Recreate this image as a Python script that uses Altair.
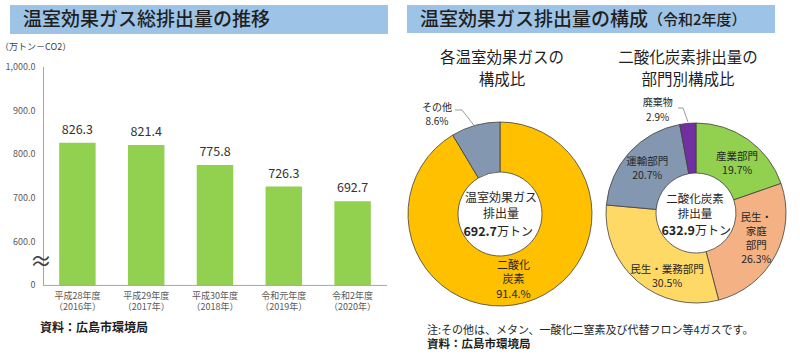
import altair as alt
import pandas as pd

FONT = "Noto Sans CJK JP"

# ---------------- data ----------------
fy_names = ["平成28年度", "平成29年度", "平成30年度", "令和元年度", "令和2年度"]
fy_years = ["（2016年）", "（2017年）", "（2018年）", "（2019年）", "（2020年）"]
total_emissions = [826.3, 821.4, 775.8, 726.3, 692.7]
y_ticks = [600, 700, 800, 900, 1000]
y_break_base = 500

gas_names = ["二酸化炭素", "その他"]
gas_share = [91.4, 8.6]
gas_label_lines = ["二酸化\n炭素", "その他"]
gas_pct_text = ["91.4.%", "8.6%"]
gas_total = 692.7

sector_names = ["産業部門", "民生・家庭部門", "民生・業務部門", "運輸部門", "廃棄物"]
sector_share = [19.7, 26.3, 30.5, 20.7, 2.9]
sector_label_lines = ["産業部門", "民生・\n家庭\n部門", "民生・業務部門", "運輸部門", "廃棄物"]
co2_total = 632.9

color_domain = gas_names + sector_names
color_range = ["#FFC000", "#8497B0", "#92D050", "#F4B183", "#FFD966", "#8497B0", "#7030A0"]

# ---------------- tables ----------------
bars = pd.DataFrame({
    "fy": fy_names,
    "value": total_emissions,
    "xlabel": [f"{a}\n{b}" for a, b in zip(fy_names, fy_years)],
})
ticks = pd.DataFrame({
    "value": [y_break_base] + y_ticks,
    "text": ["0"] + [f"{v:,.1f}" for v in y_ticks],
})
gas = pd.DataFrame({
    "cat": gas_names,
    "share": gas_share,
    "idx": list(range(len(gas_names))),
    "label": [f"{a}\n{b}" for a, b in zip(gas_label_lines, gas_pct_text)],
})
sector = pd.DataFrame({
    "cat": sector_names,
    "share": sector_share,
    "idx": list(range(len(sector_names))),
    "label": [f"{a}\n{v:.1f}%" for a, v in zip(sector_label_lines, sector_share)],
})
one = pd.DataFrame({"k": [0]})

xs = alt.Scale(domain=fy_names, range=[43, 387], paddingInner=0.47, paddingOuter=0.235)
ys = alt.Scale(domain=[y_break_base, 1000], range=[285.4, 66.9], zero=False, nice=False)
cs = alt.Scale(domain=color_domain, range=color_range)


def txt(text, x, y, size, align="left", weight="normal", color="#1F1F1F", lh=None, baseline="middle"):
    kw = dict(font=FONT, fontSize=size, align=align, baseline=baseline,
              fontWeight=weight, color=color, lineBreak="\n")
    if lh:
        kw["lineHeight"] = lh
    return alt.Chart(one).mark_text(**kw).encode(
        x=alt.value(x), y=alt.value(y), text=alt.value(text))


def rule(x, y, x2, y2, color="#808080", w=0.8):
    return alt.Chart(one).mark_rule(color=color, strokeWidth=w).encode(
        x=alt.value(x), y=alt.value(y), x2=alt.value(x2), y2=alt.value(y2))


def box(x, y, x2, y2, color):
    return alt.Chart(one).mark_rect(color=color).encode(
        x=alt.value(x), y=alt.value(y), x2=alt.value(x2), y2=alt.value(y2))


def donut(df, cx, cy, outer, inner):
    return alt.Chart(df).mark_arc(outerRadius=outer, innerRadius=inner,
                                  stroke="#404040", strokeWidth=0.8).encode(
        theta=alt.Theta("share:Q", stack=True),
        order=alt.Order("idx:Q", sort="ascending"),
        color=alt.Color("cat:N", scale=cs, legend=None),
        x=alt.value(cx), y=alt.value(cy))


def donut_label(df, cat, cx, cy, radius, dx=0, dy=0, size=10.5, lh=14):
    nlines = df.loc[df["cat"] == cat, "label"].iloc[0].count("\n") + 1
    dy = dy - (nlines - 1) * lh / 2
    return alt.Chart(df).transform_calculate(
        show=f"datum.cat == '{cat}' ? datum.label : ''"
    ).mark_text(radius=radius, dx=dx, dy=dy, font=FONT, fontSize=size,
                lineBreak="\n", lineHeight=lh, color="#262626",
                align="center", baseline="middle").encode(
        theta=alt.Theta("share:Q", stack=True),
        order=alt.Order("idx:Q", sort="ascending"),
        x=alt.value(cx), y=alt.value(cy),
        text="show:N")


layers = []

# ---- title bars ----
layers += [
    box(10, 5, 388, 34, "#9DC3E6"),
    box(407, 5, 775, 33, "#9DC3E6"),
    txt("温室効果ガス総排出量の推移", 23, 20, 19, weight=500),
    txt("温室効果ガス排出量の構成", 420, 19.5, 19, weight=500),
    txt("（令和2年度）", 648, 20, 15, weight=500),
]

# ---- bar chart ----
layers += [
    alt.Chart(bars).mark_bar(color="#92D050").encode(
        x=alt.X("fy:N", scale=xs, axis=None, sort=None),
        y=alt.Y("value:Q", scale=ys, axis=None),
        y2=alt.datum(y_break_base)),
    alt.Chart(bars).mark_text(dy=-13, font=FONT, fontSize=12.5, color="#333333").encode(
        x=alt.X("fy:N", scale=xs, axis=None, sort=None),
        y=alt.Y("value:Q", scale=ys, axis=None),
        text=alt.Text("value:Q", format=".1f")),
    alt.Chart(bars).mark_text(font=FONT, fontSize=9, lineBreak="\n", lineHeight=11.5,
                              baseline="top", color="#595959").encode(
        x=alt.X("fy:N", scale=xs, axis=None, sort=None),
        y=alt.value(291.5),
        text="xlabel:N"),
    alt.Chart(ticks).mark_text(font=FONT, fontSize=9, align="right", color="#595959").encode(
        x=alt.value(35.5),
        y=alt.Y("value:Q", scale=ys, axis=None),
        text="text:N"),
    alt.Chart(one).mark_rule(color="#A6A6A6", strokeWidth=1).encode(
        x=alt.value(43.5), y=alt.datum(1000), y2=alt.datum(y_break_base)),
    alt.Chart(one).mark_rule(color="#A6A6A6", strokeWidth=1).encode(
        x=alt.value(43), x2=alt.value(387), y=alt.datum(y_break_base)),
    txt("≈", 41, 262, 22, align="center", color="#404040"),
    txt("（万トン－CO2）", 0, 47, 9, color="#404040"),
    txt("資料：広島市環境局", 40, 328, 12, weight="bold"),
]

# ---- donut charts ----
c1x, c1y = 500, 214
c2x, c2y = 696, 213
layers += [
    txt("各温室効果ガスの\n構成比", 502, 58, 15.5, align="center", lh=22),
    txt("二酸化炭素排出量の\n部門別構成比", 688, 58, 15.5, align="center", lh=22),
    donut(gas, c1x, c1y, 92, 42),
    donut(sector, c2x, c2y, 90, 40),
    donut_label(gas, "二酸化炭素", c1x, c1y, 69, dx=-5, size=11, lh=14.5),
    donut_label(gas, "その他", c1x, c1y, 105, dx=-35, dy=2, size=10, lh=14),
    donut_label(sector, "産業部門", c2x, c2y, 64, dx=4, dy=3),
    donut_label(sector, "民生・家庭部門", c2x, c2y, 66, dx=2, dy=-5),
    donut_label(sector, "民生・業務部門", c2x, c2y, 68, dx=15, dy=12),
    donut_label(sector, "運輸部門", c2x, c2y, 66),
    donut_label(sector, "廃棄物", c2x, c2y, 103, dx=-29, size=10, lh=15),
    rule(455, 110, 462, 110), rule(462, 110, 476, 128),
    rule(678, 108, 683, 108), rule(683, 108, 688, 122),
    txt("温室効果ガス\n排出量", c1x + 1, 198, 12, align="center", lh=15.5, color="#262626"),
    txt(f"{gas_total:.1f}", c1x - 3, 232, 12.5, align="right", weight="bold", color="#262626"),
    txt("万トン", c1x - 3, 232, 12, color="#262626"),
    txt("二酸化炭素\n排出量", c2x - 1, 200, 11.5, align="center", lh=15, color="#262626"),
    txt(f"{co2_total:.1f}", c2x - 1, 231, 12.5, align="right", weight="bold", color="#262626"),
    txt("万トン", c2x - 1, 231, 12, color="#262626"),
    txt("注:その他は、メタン、一酸化二窒素及び代替フロン等4ガスです。", 427, 330.5, 11, color="#262626"),
    txt("資料：広島市環境局", 427, 345, 11.5, weight="bold"),
]

chart = alt.layer(*layers).properties(
    width=800, height=357,
    autosize=alt.AutoSizeParams(type="none"),
    padding=0,
).resolve_scale(theta="independent").configure_view(stroke=None)

chart.save("out.html", embed_options={"renderer": "svg", "actions": False})
